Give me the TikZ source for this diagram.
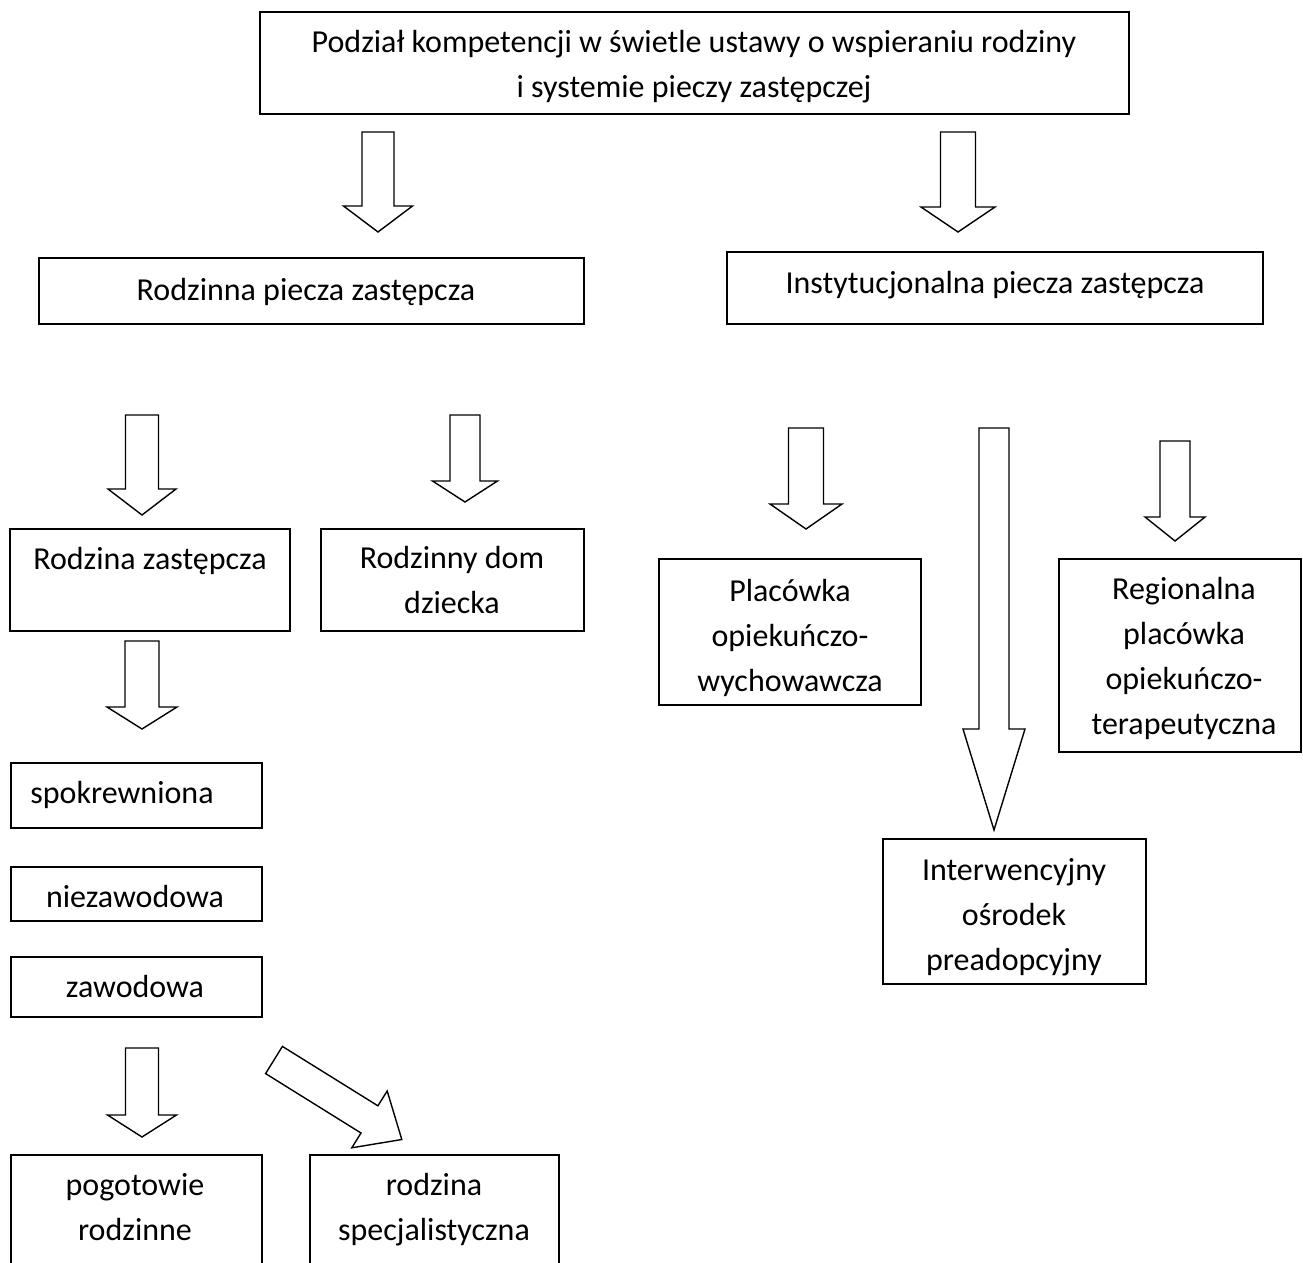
\documentclass[tikz,border=0pt]{standalone}
\usepackage{fontspec}
\setmainfont{Carlito}
\usetikzlibrary{fit}
\tikzset{
  boxs/.style={draw, line width=0.8pt, inner sep=0pt},
  txt/.style={font=\fontsize{16}{22.5}\selectfont, inner sep=0pt, align=center},
  blockarrow/.style={draw, line width=0.7pt, fill=white, line join=miter},
}
\newcommand\mkbox[5]{\node[boxs, fit={(#2,#3) (#4,#5)}] (#1) {};}
% name, cx, top, base, tip, shaft half width, head half width
\newcommand\downarr[7]{%
  \coordinate (#1) at (#2,#3);
  \draw[blockarrow] ({#2-#6},#3) -- ({#2+#6},#3) -- ({#2+#6},#4) -- ({#2+#7},#4)
    -- (#2,#5) -- ({#2-#7},#4) -- ({#2-#6},#4) -- cycle;}
\begin{document}
\begin{tikzpicture}[x=0.5pt,y=-0.5pt]
\useasboundingbox (0,0) rectangle (1303,1263);
\clip (0,0) rectangle (1303,1263);
% boxes
\mkbox{b0}{260}{12}{1129}{114}
\mkbox{b1}{39}{258}{584}{324}
\mkbox{b2}{727}{252}{1263}{324}
\mkbox{b3}{10}{529}{290}{631}
\mkbox{b4}{321}{529}{584}{631}
\mkbox{b5}{11}{763}{262}{828}
\mkbox{b6}{11}{867}{262}{921}
\mkbox{b7}{11}{957}{262}{1017}
\mkbox{b8}{11}{1155}{262}{1300}
\mkbox{b9}{310}{1155}{559}{1300}
\mkbox{b10}{659}{559}{921}{705}
\mkbox{b11}{1059}{559}{1301}{752}
\mkbox{b12}{883}{839}{1146}{984}
% texts (anchor=base is the baseline of the last line)
\node[txt, anchor=base] (t0) at (694,98) {Podział kompetencji w świetle ustawy o wspieraniu rodziny\\ i systemie pieczy zastępczej};
\node[txt, anchor=base] (t1) at (306,300) {Rodzinna piecza zastępcza};
\node[txt, anchor=base] (t2) at (995,293) {Instytucjonalna piecza zastępcza};
\node[txt, anchor=base] (t3) at (150,569) {Rodzina zastępcza};
\node[txt, anchor=base] (t4) at (452,613) {Rodzinny dom\\dziecka};
\node[txt, anchor=base] (t5) at (122,803) {spokrewniona};
\node[txt, anchor=base] (t6) at (135,907) {niezawodowa};
\node[txt, anchor=base] (t7) at (135,997) {zawodowa};
\node[txt, anchor=base] (t8) at (135,1240) {pogotowie\\rodzinne};
\node[txt, anchor=base] (t9) at (434,1240) {rodzina\\specjalistyczna};
\node[txt, anchor=base] (t10) at (790,691) {Placówka\\opiekuńczo-\\wychowawcza};
\node[txt, anchor=base] (t11) at (1184,734) {Regionalna\\placówka\\opiekuńczo-\\terapeutyczna};
\node[txt, anchor=base] (t12) at (1014,970) {Interwencyjny\\ośrodek\\preadopcyjny};
% block arrows
\downarr{a1}{378}{132}{206}{232}{16}{34.5}
\downarr{a2}{958}{132}{207}{232}{17.5}{37}
\downarr{a3}{142}{415}{489}{515}{16.5}{34}
\downarr{a4}{465}{415}{481}{502}{15}{32.5}
\downarr{a5}{142}{641}{707}{729}{17}{35}
\downarr{a6}{142}{1048}{1115}{1137}{16.5}{34.5}
\downarr{a8}{806}{428}{504}{529}{17.5}{36}
\downarr{a9}{994}{428}{729}{830}{15}{31}
\downarr{a10}{1175}{441}{517}{541}{15}{30}
% diagonal block arrow (zawodowa -> rodzina specjalistyczna)
\coordinate (a7) at (274,1060);
\draw[blockarrow] (282.4,1046.4) -- (377.9,1105.8) -- (387.2,1091.0) -- (401.8,1139.5)
  -- (351.8,1147.8) -- (361.0,1133.0) -- (265.6,1073.6) -- cycle;
\end{tikzpicture}
\end{document}
